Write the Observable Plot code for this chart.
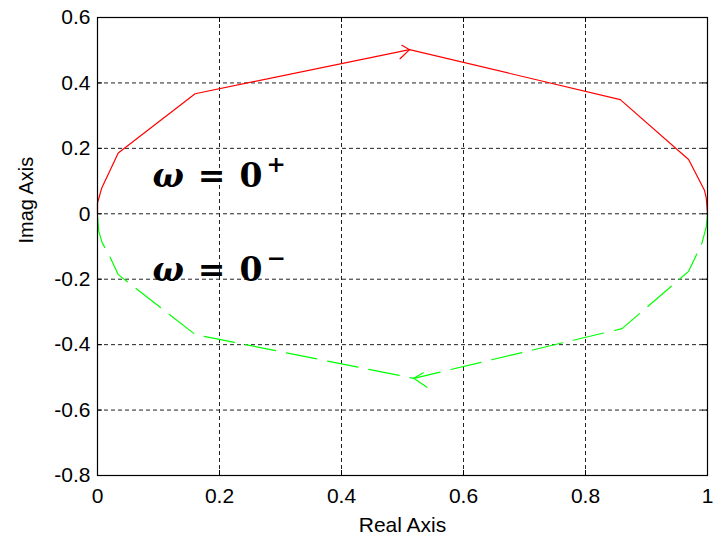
<!DOCTYPE html>
<html><head><meta charset="utf-8">
<script src="https://cdn.jsdelivr.net/npm/d3@7"></script>
<script src="https://cdn.jsdelivr.net/npm/@observablehq/plot@0.6"></script>
<style>body{margin:0;background:#fff}</style>
</head><body><div id="chart"></div>
<script>
// Nyquist curve, positive frequencies (red, solid)
const redRe = [0, 0, 0.007, 0.034, 0.16, 0.5116, 0.857, 0.969, 0.995, 0.998, 1];
const redIm = [0, 0.033, 0.079, 0.186, 0.367, 0.5017, 0.349, 0.166, 0.072, 0.048, 0];
// Nyquist curve, negative frequencies (green, dashed), drawn from (1,0)
const greenRe = [1, 0.998, 0.991, 0.982, 0.969, 0.86, 0.5185, 0.16, 0.034, 0.0185, 0.0077, 0.002, 0];
const greenIm = [0, -0.04, -0.089, -0.125, -0.176, -0.351, -0.503, -0.369, -0.186, -0.124, -0.089, -0.053, 0];
// direction arrows
const redArrowRe = [0.499, 0.5116, 0.496];
const redArrowIm = [0.515, 0.5017, 0.474];
const greenArrowRe = [0.534, 0.5185, 0.540];
const greenArrowIm = [-0.486, -0.503, -0.530];
// annotations
const omegaSymbol = ["ω", "ω"];
const omegaValue = ["0", "0"];
const omegaSup = ["+", "−"];
const omegaX = [0.09, 0.09];
const omegaY = [0.081, -0.206];
// ticks
const xTicks = [0, 0.2, 0.4, 0.6, 0.8, 1];
const xTickLabels = ["0", "0.2", "0.4", "0.6", "0.8", "1"];
const yTicks = [0.6, 0.4, 0.2, 0, -0.2, -0.4, -0.6, -0.8];
const yTickLabels = ["0.6", "0.4", "0.2", "0", "-0.2", "-0.4", "-0.6", "-0.8"];

const W = 721, H = 541, mL = 97, mR = 14, mT = 17, mB = 66;
const pw = W - mL - mR, ph = H - mT - mB;

const red = redRe.map((x, i) => ({x, y: redIm[i]}));
const green = greenRe.map((x, i) => ({x, y: greenIm[i]}));
const redArrow = redArrowRe.map((x, i) => ({x, y: redArrowIm[i]}));
const greenArrow = greenArrowRe.map((x, i) => ({x, y: greenArrowIm[i]}));
const omega = omegaSymbol.map((s, i) => ({t: `${s} = ${omegaValue[i]}`, s, v: omegaValue[i], sup: omegaSup[i], x: omegaX[i], y: omegaY[i]}));

const plot = Plot.plot({
  width: W, height: H,
  marginLeft: mL, marginRight: mR, marginTop: mT, marginBottom: mB,
  x: {domain: [0, 1]},
  y: {domain: [-0.8, 0.6]},
  style: {fontFamily: "'Liberation Sans', Arial, sans-serif", fontSize: "21px", color: "black", background: "white"},
  marks: [
    Plot.gridX(xTicks, {stroke: "#222", strokeOpacity: 1, strokeDasharray: "4,3"}),
    Plot.gridY(yTicks, {stroke: "#222", strokeOpacity: 1, strokeDasharray: "4,3"}),
    Plot.tickX(xTicks, {x: d => d, stroke: "black", insetTop: ph - 5}),
    Plot.tickX(xTicks, {x: d => d, stroke: "black", insetBottom: ph - 5}),
    Plot.tickY(yTicks, {y: d => d, stroke: "black", insetRight: pw - 5}),
    Plot.tickY(yTicks, {y: d => d, stroke: "black", insetLeft: pw - 5}),
    Plot.axisX(xTicks, {tickSize: 0, tickPadding: 13, fontSize: 21, label: null,
      tickFormat: d => xTickLabels[xTicks.indexOf(d)]}),
    Plot.axisY(yTicks, {tickSize: 0, tickPadding: 7, fontSize: 21, label: null,
      tickFormat: d => yTickLabels[yTicks.indexOf(d)]}),
    Plot.text(["Real Axis"], {frameAnchor: "bottom", dy: 56, lineAnchor: "bottom", fontSize: 21}),
    Plot.text(["Imag Axis"], {frameAnchor: "left", dx: -71, dy: -3, rotate: -90, lineAnchor: "middle", fontSize: 20}),
    Plot.line(red, {x: "x", y: "y", stroke: "#ff0000", strokeWidth: 1.2}),
    Plot.line(green, {x: "x", y: "y", stroke: "#00ff00", strokeWidth: 1.2, strokeDasharray: "31,11"}),
    Plot.line(redArrow, {x: "x", y: "y", stroke: "#ff0000", strokeWidth: 1.2}),
    Plot.line(greenArrow, {x: "x", y: "y", stroke: "#00ff00", strokeWidth: 1.2}),
    Plot.text(omega, {x: "x", y: "y", text: "t", textAnchor: "start", lineAnchor: "bottom",
      fontFamily: "'DejaVu Serif', serif", fontWeight: "bold", fontSize: 33, fill: "black", className: "omega"}),
    Plot.frame({stroke: "black", strokeWidth: 1.2})
  ]
});

d3.select(plot).selectAll("g.omega text").each(function(i) {
  const d = omega[i];
  const t = d3.select(this);
  t.text(null);
  t.append("tspan").attr("font-style", "italic").text(d.s);
  t.append("tspan").attr("dx", "14").text("=");
  t.append("tspan").attr("dx", "14").text(d.v);
  t.append("tspan").attr("font-size", "23px").attr("dx", "4").attr("dy", "-0.68em").text(d.sup);
});

document.getElementById("chart").appendChild(plot);
</script>
</body></html>
